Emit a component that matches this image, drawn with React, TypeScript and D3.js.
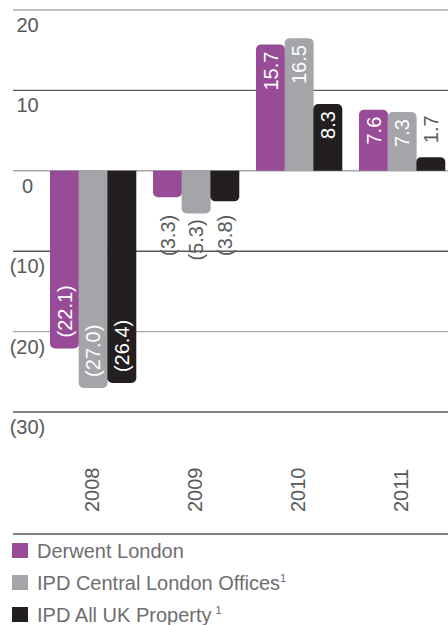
import React from "react";
import * as d3 from "d3";

const years = ["2008", "2009", "2010", "2011"];
const seriesNames = ["Derwent London", "IPD Central London Offices", "IPD All UK Property"];
const derwent = [-22.1, -3.3, 15.7, 7.6];
const ipdCentral = [-27.0, -5.3, 16.5, 7.3];
const ipdAll = [-26.4, -3.8, 8.3, 1.7];
const yTicks = [20, 10, 0, -10, -20, -30];
const colors = ["#984c98", "#a4a5a9", "#231f20"];
const legendSup = ["", "1", "1"];

const W = 448;
const H = 625;
const FONT = "'Liberation Sans', Arial, sans-serif";

const fmt = (v: number) => (v < 0 ? `(${Math.abs(v).toFixed(1)})` : v.toFixed(1));

function barPath(x: number, w: number, y0: number, y1: number) {
  const p = d3.path();
  const h = Math.abs(y1 - y0);
  const r = Math.min(5, h / 2);
  if (y1 < y0) {
    p.moveTo(x, y0);
    p.lineTo(x, y1 + r);
    p.arcTo(x, y1, x + r, y1, r);
    p.lineTo(x + w - r, y1);
    p.arcTo(x + w, y1, x + w, y1 + r, r);
    p.lineTo(x + w, y0);
  } else {
    p.moveTo(x, y0);
    p.lineTo(x, y1 - r);
    p.arcTo(x, y1, x + r, y1, r);
    p.lineTo(x + w - r, y1);
    p.arcTo(x + w, y1, x + w, y1 - r, r);
    p.lineTo(x + w, y0);
  }
  p.closePath();
  return p.toString();
}

export default function App() {
  const series = [derwent, ipdCentral, ipdAll];

  const y = d3.scaleLinear().domain([-30, 20]).range([412, 10]);
  const x = d3.scaleBand().domain(years).range([50, 445]).paddingInner(0.165).paddingOuter(0);
  const xs = d3.scaleBand().domain(seriesNames).range([0, x.bandwidth()]).padding(0);

  const zero = y(0);

  return (
    <svg width={W} height={H} style={{ position: "absolute", left: 0, top: 0, display: "block" }} fontFamily={FONT}>
      <rect width={W} height={H} fill="#fff" />
      {/* gridlines */}
      {yTicks.map((t, i) => (
        <g key={t}>
          <line x1={13} x2={W} y1={y(t)} y2={y(t)} stroke={i % 2 === 0 ? "#a7a7a9" : "#58595b"} strokeWidth={1.4} />
          <text x={27.5} y={y(t) + 22} textAnchor="middle" fontSize={20} fill="#58595b">
            {t < 0 ? `(${-t})` : t}
          </text>
        </g>
      ))}
      <line x1={13} x2={W} y1={534} y2={534} stroke="#58595b" strokeWidth={1.4} />

      {/* bars */}
      {years.map((yr, gi) => (
        <g key={yr} transform={`translate(${x(yr)},0)`}>
          {series.map((s, si) => {
            const v = s[gi];
            const bx = xs(seriesNames[si]) as number;
            const bw = xs.bandwidth();
            const y1 = y(v);
            const cx = bx + bw / 2;
            const inside = Math.abs(v) > 6;
            let ly: number;
            let anchor: string;
            let fill: string;
            if (inside) {
              fill = "#fff";
              if (v > 0) {
                ly = y1 + 7;
                anchor = "end";
              } else {
                ly = y1 - 11;
                anchor = "start";
              }
            } else {
              fill = "#58595b";
              if (v > 0) {
                ly = y1 - 14;
                anchor = "start";
              } else {
                ly = Math.max(y1 + 6, zero + 44);
                anchor = "end";
              }
            }
            return (
              <g key={si}>
                <path d={barPath(bx, bw + 0.3, zero, y1)} fill={colors[si]} />
                <text
                  transform={`translate(${cx},${ly}) rotate(-90)`}
                  textAnchor={anchor}
                  dy="0.36em"
                  fontSize={20}
                  fill={fill}
                >
                  {fmt(v)}
                </text>
              </g>
            );
          })}
          <text
            transform={`translate(${x.bandwidth() / 2 - 1},512) rotate(-90)`}
            textAnchor="start"
            dy="0.36em"
            fontSize={20}
            fill="#58595b"
          >
            {yr}
          </text>
        </g>
      ))}

      {/* legend */}
      {seriesNames.map((name, i) => (
        <g key={name} transform={`translate(0,${543 + i * 32})`}>
          <rect x={12} y={0} width={16} height={15} fill={colors[i]} />
          <text x={37} y={15} fontSize={20} fill="#6d6e71">
            {name}
            {legendSup[i] && (
              <tspan fontSize={11} dy={-8} dx={i === 2 ? 4 : 0}>
                {legendSup[i]}
              </tspan>
            )}
          </text>
        </g>
      ))}
    </svg>
  );
}
